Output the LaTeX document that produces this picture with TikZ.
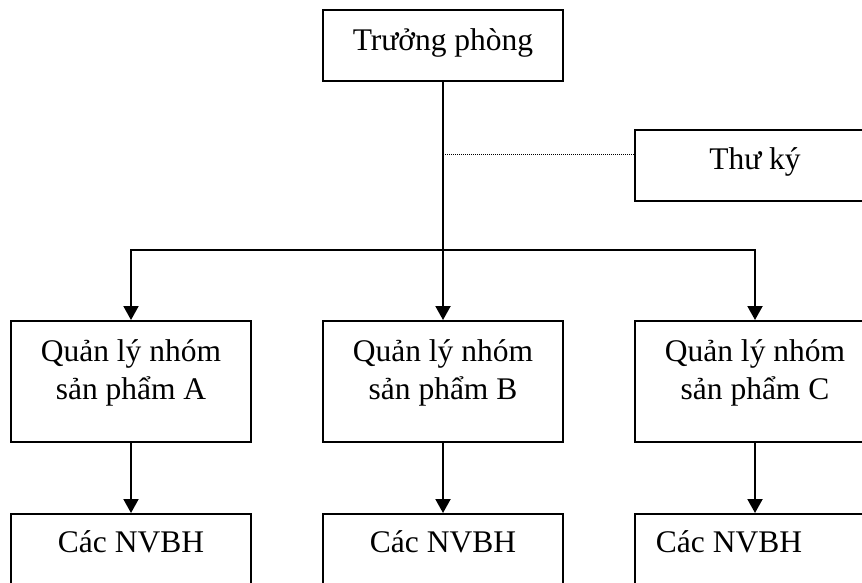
\documentclass[tikz,border=0pt]{standalone}
\usepackage{fontspec}
\setmainfont{Liberation Serif}
\usetikzlibrary{arrows.meta}
\tikzset{
  unitbox/.style={draw, line width=2pt, rectangle, inner sep=0pt,
    minimum width=240pt},
  shortbox/.style={unitbox, minimum height=71pt},
  tallbox/.style={unitbox, minimum height=121pt},
  boxtext/.style={anchor=base, align=center, inner sep=0pt,
    font=\fontsize{31.5}{38}\selectfont},
  link/.style={line width=2pt},
  arrowlink/.style={link, -{Triangle[width=15pt,length=14pt]}},
  dotlink/.style={line width=1pt, dash pattern=on 1pt off 1pt}
}
\begin{document}
\begin{tikzpicture}[x=1pt, y=-1pt]
  \useasboundingbox (0,0) rectangle (862,582);
  \clip (0,0) rectangle (862,582);

  % boxes
  \node[shortbox] (boss) at (443,45.5) {};
  \node[shortbox] (sec)  at (755,165.5) {};
  \node[tallbox]  (qa)   at (131,381.5) {};
  \node[tallbox]  (qb)   at (443,381.5) {};
  \node[tallbox]  (qc)   at (755,381.5) {};
  \node[shortbox] (na)   at (131,549.5) {};
  \node[shortbox] (nb)   at (443,549.5) {};
  \node[shortbox] (nc)   at (755,549.5) {};

  % labels
  \node[boxtext] (tboss) at ([yshift=-41pt]boss.north) {Trưởng phòng};
  \node[boxtext] (tsec)  at ([yshift=-40pt]sec.north) {Thư ký};
  \node[boxtext, anchor=north] (tqa) at ([yshift=-19pt]qa.north) {Quản lý nhóm\\sản phẩm A};
  \node[boxtext, anchor=north] (tqb) at ([yshift=-19pt]qb.north) {Quản lý nhóm\\sản phẩm B};
  \node[boxtext, anchor=north] (tqc) at ([yshift=-19pt]qc.north) {Quản lý nhóm\\sản phẩm C};
  \node[boxtext] (tna) at ([yshift=-39pt]na.north) {Các NVBH};
  \node[boxtext] (tnb) at ([yshift=-39pt]nb.north) {Các NVBH};
  \node[boxtext] (tnc) at ([xshift=-26pt,yshift=-39pt]nc.north) {Các NVBH};

  % connectors
  \coordinate (bus) at (443,250);
  \coordinate (tap) at (443,154);
  \draw[link] (boss.south) -- (bus);
  \draw[dotlink] (tap) -- (sec.west |- tap);
  \draw[arrowlink] (bus) -- (qb.north);
  \draw[arrowlink] (bus) -| (qa.north);
  \draw[arrowlink] (bus) -| (qc.north);
  \draw[arrowlink] (qa.south) -- (na.north);
  \draw[arrowlink] (qb.south) -- (nb.north);
  \draw[arrowlink] (qc.south) -- (nc.north);
\end{tikzpicture}
\end{document}
